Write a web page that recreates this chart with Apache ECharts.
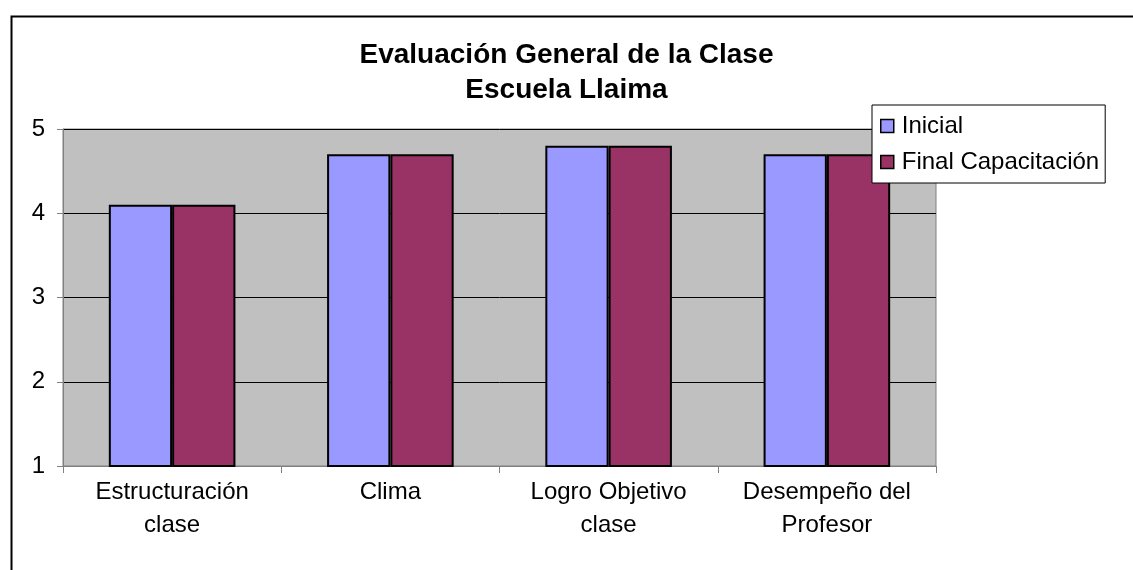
<!DOCTYPE html>
<html><head><meta charset="utf-8">
<script src="https://cdn.jsdelivr.net/npm/echarts@6/dist/echarts.min.js"></script>
<style>html,body{margin:0;padding:0;background:#fff}#c{width:1133px;height:570px}</style>
</head><body><div id="c"></div>
<script>
const categories = ["Estructuración\nclase", "Clima", "Logro Objetivo\nclase", "Desempeño del\nProfesor"];
const inicial = [4.1, 4.7, 4.8, 4.7];
const finalCap = [4.1, 4.7, 4.8, 4.7];
const seriesNames = ["Inicial", "Final Capacitación"];
const titleText = "Evaluación General de la Clase\nEscuela Llaima";
const yTicks = {min: 1, max: 5, interval: 1};

const font = "'Liberation Sans', Arial, sans-serif";
const chart = echarts.init(document.getElementById('c'), null, {renderer: 'canvas'});
chart.setOption({
  animation: false,
  backgroundColor: '#fff',
  textStyle: {fontFamily: font},
  title: {
    text: titleText, left: 'center', top: 33,
    textStyle: {fontFamily: font, fontSize: 28, fontWeight: 'bold', color: '#000', lineHeight: 35}
  },
  graphic: [{
    type: 'rect', left: 9, top: 14, silent: true, z: -1,
    shape: {x: 0, y: 0, width: 1300, height: 700},
    style: {fill: 'none', stroke: '#000', lineWidth: 2}
  }],
  legend: {
    orient: 'vertical', left: 872, top: 105,
    backgroundColor: '#fff', borderColor: '#000', borderWidth: 1,
    padding: [9, 6, 9, 8], itemGap: 12, itemWidth: 13, itemHeight: 13,
    icon: 'rect',
    textStyle: {fontFamily: font, fontSize: 24, color: '#000', padding: [0, 0, 0, 3]},
    data: seriesNames.map(n => ({name: n, itemStyle: {borderColor: '#000', borderWidth: 1.5}}))
  },
  grid: {
    left: 63, top: 129, right: 197, bottom: 104,
    show: true, backgroundColor: '#C0C0C0', borderColor: '#808080', borderWidth: 1
  },
  xAxis: {
    type: 'category', data: categories,
    axisLine: {lineStyle: {color: '#808080', width: 1}},
    axisTick: {show: true, length: 7, lineStyle: {color: '#808080'}},
    axisLabel: {fontFamily: font, fontSize: 24, color: '#000', lineHeight: 33, margin: 10, interval: 0}
  },
  yAxis: {
    type: 'value', min: yTicks.min, max: yTicks.max, interval: yTicks.interval,
    axisLine: {show: true, lineStyle: {color: '#808080', width: 1}},
    axisTick: {show: true, length: 6, lineStyle: {color: '#808080'}},
    axisLabel: {fontFamily: font, fontSize: 24, color: '#000', margin: 18},
    splitLine: {show: true, lineStyle: {color: '#000', width: 1}}
  },
  series: [
    {name: seriesNames[0], type: 'bar', data: inicial, barGap: '0%', barCategoryGap: '42%',
     itemStyle: {color: '#9999FF', borderColor: '#000', borderWidth: 2}},
    {name: seriesNames[1], type: 'bar', data: finalCap, barGap: '0%', barCategoryGap: '42%',
     itemStyle: {color: '#993366', borderColor: '#000', borderWidth: 2}}
  ]
});
</script></body></html>
